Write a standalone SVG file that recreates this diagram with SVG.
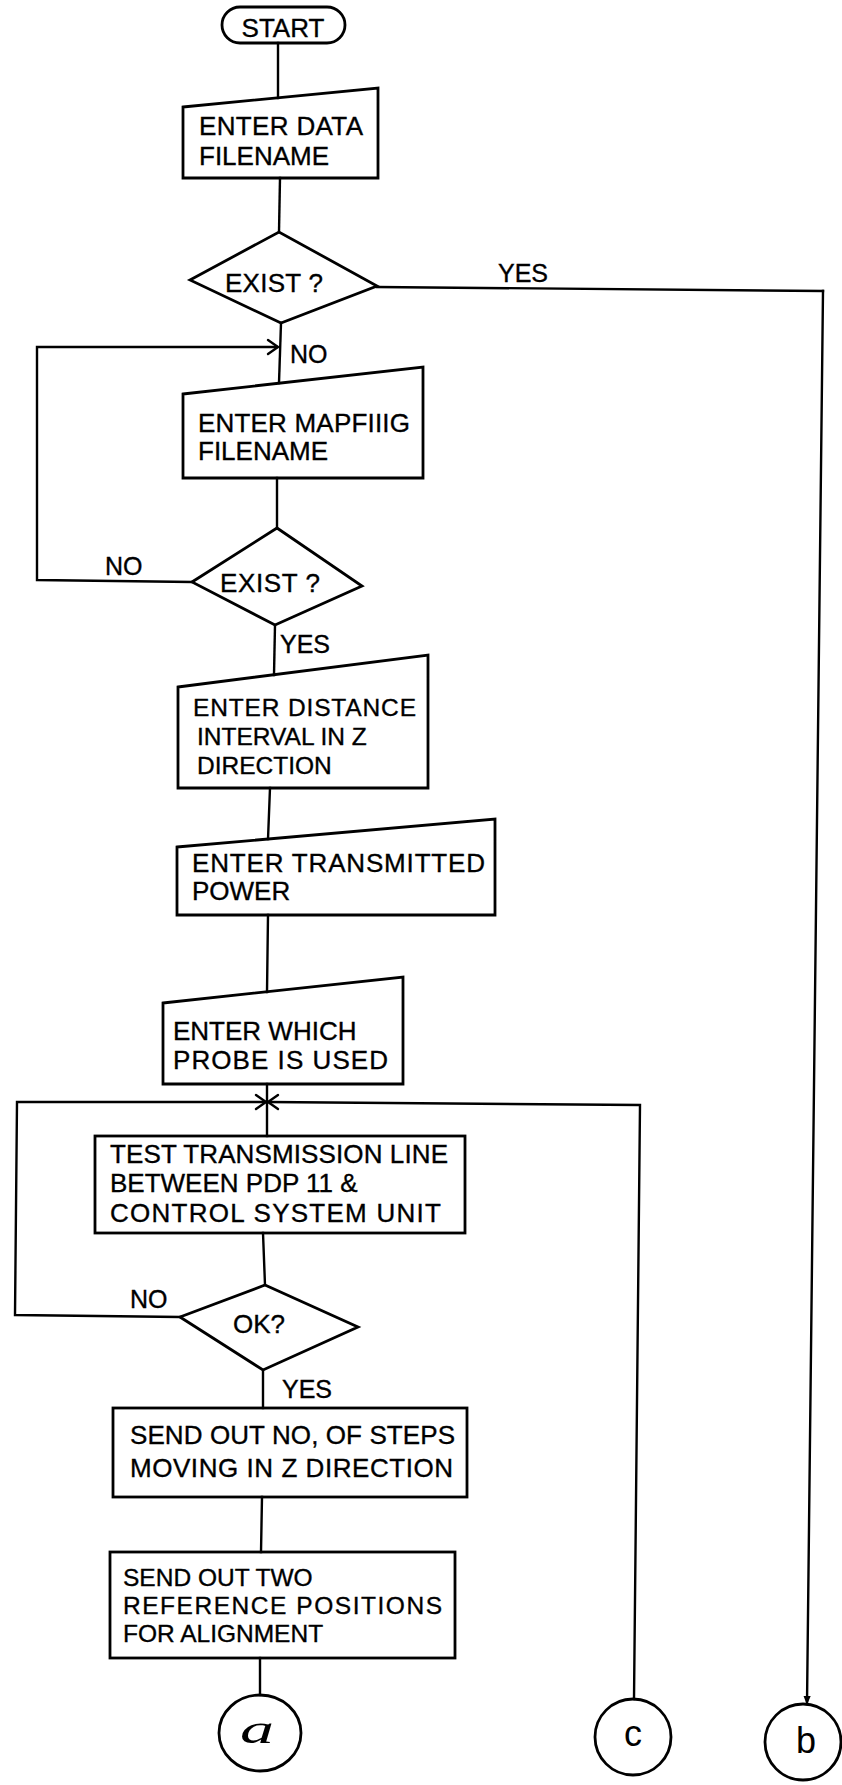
<svg xmlns="http://www.w3.org/2000/svg" width="842" height="1785" viewBox="0 0 842 1785">
<style>
.bg{fill:#ffffff}
.shape{fill:none;stroke:#000;stroke-width:2.8;stroke-linejoin:miter}
.line{fill:none;stroke:#000;stroke-width:2.4;stroke-linecap:square}
.ah{fill:none;stroke:#000;stroke-width:2.4;stroke-linecap:round;stroke-linejoin:miter}
.t{font-family:"Liberation Sans",Arial,sans-serif;font-size:26px;fill:#000;stroke:#000;stroke-width:0.35}
.t3{font-family:"Liberation Sans",Arial,sans-serif;font-size:24.5px;fill:#000;stroke:#000;stroke-width:0.35}
.lbl{font-family:"Liberation Sans",Arial,sans-serif;font-size:25px;fill:#000;stroke:#000;stroke-width:0.35}
.conn{font-family:"Liberation Sans",Arial,sans-serif;font-size:36px;fill:#000;text-anchor:middle}
</style>
<defs>
<marker id="arrDown" viewBox="0 0 10 10" refX="9" refY="5" markerWidth="9" markerHeight="9" markerUnits="userSpaceOnUse" orient="auto">
<path d="M0,1 L10,5 L0,9 Z" fill="#000"/>
</marker>
</defs>
<rect class="bg" x="0" y="0" width="842" height="1785"/>

<g id="connectors">
<line class="line" x1="278" y1="43" x2="278" y2="98"/>
<line class="line" x1="280" y1="178" x2="279" y2="232"/>
<polyline class="line" points="377,287 823,291"/>
<polyline class="line" points="823,291 807,1704" marker-end="url(#arrDown)"/>
<line class="line" x1="281" y1="323" x2="279" y2="383"/>
<polyline class="line" points="192,582 37,580 37,347 277,347"/>
<polyline class="ah" points="268,340 278,347 268,354"/>
<line class="line" x1="277" y1="478" x2="277" y2="528"/>
<line class="line" x1="275" y1="625" x2="274" y2="675"/>
<line class="line" x1="270" y1="788" x2="268" y2="839"/>
<line class="line" x1="268" y1="915" x2="267" y2="992"/>
<line class="line" x1="267" y1="1084" x2="267" y2="1136"/>
<polyline class="line" points="180,1317 15,1315 17,1102 265,1102"/>
<polyline class="line" points="269,1102 640,1105 634,1699"/>
<polyline class="ah" points="256,1095 266,1102 256,1109"/>
<polyline class="ah" points="278,1095 268,1102 278,1109"/>
<line class="line" x1="263" y1="1233" x2="265" y2="1285"/>
<line class="line" x1="263" y1="1370" x2="263" y2="1408"/>
<line class="line" x1="262" y1="1497" x2="261" y2="1552"/>
<line class="line" x1="260" y1="1658" x2="260" y2="1695"/>
<text class="lbl" x="498" y="282">YES</text>
<text class="lbl" x="290" y="363">NO</text>
<text class="lbl" x="105" y="575">NO</text>
<text class="lbl" x="280" y="653">YES</text>
<text class="lbl" x="130" y="1308">NO</text>
<text class="lbl" x="282" y="1398">YES</text>
</g>

<g id="start">
<rect class="shape" x="222" y="7" width="123" height="36" rx="18" ry="18"/>
<text class="t" x="283" y="37" text-anchor="middle">START</text>
</g>

<g id="enter-data-filename">
<polygon class="shape" points="183,107 378,88 378,178 183,178"/>
<text class="t" x="199" y="135" textLength="164" lengthAdjust="spacing">ENTER DATA</text>
<text class="t" x="199" y="165">FILENAME</text>
</g>

<g id="exist-data">
<polygon class="shape" points="190,280 279,232 377,286 281,323"/>
<text class="t" x="225" y="292" textLength="98" lengthAdjust="spacing">EXIST ?</text>
</g>

<g id="enter-mapping-filename">
<polygon class="shape" points="183,394 423,367 423,478 183,478"/>
<text class="t" x="198" y="432" textLength="212" lengthAdjust="spacing">ENTER MAPFIIIG</text>
<text class="t" x="198" y="460">FILENAME</text>
</g>

<g id="exist-mapping">
<polygon class="shape" points="192,582 277,528 362,586 275,625"/>
<text class="t" x="220" y="592" textLength="100" lengthAdjust="spacing">EXIST ?</text>
</g>

<g id="enter-distance">
<polygon class="shape" points="178,687 428,655 428,788 178,788"/>
<text class="t3" x="193" y="716" textLength="223" lengthAdjust="spacing">ENTER DISTANCE</text>
<text class="t3" x="197" y="745">INTERVAL IN Z</text>
<text class="t3" x="197" y="774">DIRECTION</text>
</g>

<g id="enter-power">
<polygon class="shape" points="177,847 495,819 495,915 177,915"/>
<text class="t" x="192" y="872" textLength="293" lengthAdjust="spacing">ENTER TRANSMITTED</text>
<text class="t" x="192" y="900">POWER</text>
</g>

<g id="enter-probe">
<polygon class="shape" points="163,1003 403,977 403,1084 163,1084"/>
<text class="t" x="173" y="1040">ENTER WHICH</text>
<text class="t" x="173" y="1069" textLength="215" lengthAdjust="spacing">PROBE  IS USED</text>
</g>

<g id="test-line">
<rect class="shape" x="95" y="1136" width="370" height="97"/>
<text class="t" x="110" y="1163" textLength="338" lengthAdjust="spacing">TEST TRANSMISSION LINE</text>
<text class="t" x="110" y="1192">BETWEEN PDP 11 &amp;</text>
<text class="t" x="110" y="1222" textLength="331" lengthAdjust="spacing">CONTROL SYSTEM UNIT</text>
</g>

<g id="ok">
<polygon class="shape" points="180,1317 265,1285 358,1327 263,1370"/>
<text class="t" x="233" y="1333">OK?</text>
</g>

<g id="send-steps">
<rect class="shape" x="113" y="1408" width="354" height="89"/>
<text class="t" x="130" y="1444" textLength="325" lengthAdjust="spacing">SEND OUT NO, OF STEPS</text>
<text class="t" x="130" y="1477" textLength="323" lengthAdjust="spacing">MOVING IN Z DIRECTION</text>
</g>

<g id="send-reference">
<rect class="shape" x="110" y="1552" width="345" height="106"/>
<text class="t3" x="123" y="1586">SEND OUT TWO</text>
<text class="t3" x="123" y="1614" textLength="319" lengthAdjust="spacing">REFERENCE POSITIONS</text>
<text class="t3" x="123" y="1642">FOR ALIGNMENT</text>
</g>

<g id="connector-a">
<ellipse class="shape" cx="260" cy="1733" rx="41" ry="38"/>
<text x="257" y="1743" font-family="'Liberation Serif',serif" font-style="italic" font-size="42" text-anchor="middle" textLength="34" lengthAdjust="spacingAndGlyphs">a</text>
</g>

<g id="connector-c">
<circle class="shape" cx="633" cy="1737" r="38"/>
<text class="conn" x="633" y="1746">c</text>
</g>

<g id="connector-b">
<circle class="shape" cx="803" cy="1742" r="38"/>
<text class="conn" x="806" y="1753">b</text>
</g>
</svg>
